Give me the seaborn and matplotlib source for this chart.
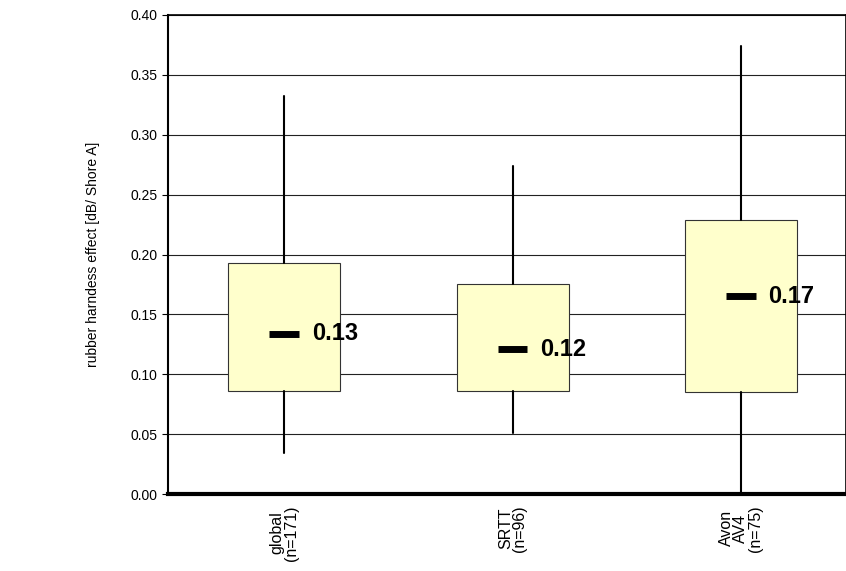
import matplotlib
matplotlib.use("Agg")
import matplotlib.pyplot as plt
import seaborn as sns

categories = ["global\n(n=171)", "SRTT\n(n=96)", "Avon\nAV4\n(n=75)"]
whislo = [0.034, 0.051, 0.0]
q1 = [0.086, 0.086, 0.085]
med = [0.134, 0.121, 0.165]
q3 = [0.193, 0.175, 0.229]
whishi = [0.332, 0.274, 0.374]
med_labels = ["0.13", "0.12", "0.17"]

sns.set_style("white")
plt.rcParams['font.family'] = ['Liberation Sans', 'DejaVu Sans']
plt.rcParams['text.color'] = 'black'
plt.rcParams['axes.labelcolor'] = 'black'
plt.rcParams['xtick.color'] = 'black'
plt.rcParams['ytick.color'] = 'black'
fig = plt.figure(figsize=(8.46, 5.71), dpi=100)
ax = fig.add_axes([168/846, 77/571, 678/846, 479/571])

stats = [dict(whislo=a, q1=b, med=c, q3=d, whishi=e, fliers=[])
         for a, b, c, d, e in zip(whislo, q1, med, q3, whishi)]
pos = list(range(len(categories)))
ax.set_axisbelow(True)
ax.yaxis.grid(True, color="#222222", lw=0.8)
ax.bxp(stats, positions=pos, widths=0.49, patch_artist=True, showcaps=False,
       boxprops=dict(facecolor="#FFFFCC", edgecolor="#333333", lw=0.8),
       whiskerprops=dict(color="black", lw=1.5),
       medianprops=dict(color="none"))
for p, m, t in zip(pos, med, med_labels):
    ax.plot([p - 0.065, p + 0.065], [m, m], color="black", lw=5, solid_capstyle="butt", zorder=5)
    ax.text(p + 0.12, m, t, fontsize=17, fontweight="bold", va="center", ha="left", zorder=6, color="black")

ax.set_xlim(-0.509, 2.46)
ax.set_ylim(0, 0.4)
ax.set_yticks([i * 0.05 for i in range(9)])
ax.set_yticklabels([f"{i*0.05:.2f}" for i in range(9)], fontsize=10)
ax.set_xticks(pos)
ax.set_xticklabels(categories, rotation=90, fontsize=11.5, va="top", ha="center", linespacing=0.95)
ax.tick_params(axis="y", length=4, color="black", direction="out", left=True)
ax.tick_params(axis="x", length=0, pad=8)
for s in ["top", "right"]:
    ax.spines[s].set_visible(True)
    ax.spines[s].set_color("black")
    ax.spines[s].set_linewidth(1.2)
ax.spines["left"].set_color("black"); ax.spines["left"].set_linewidth(1.5)
ax.spines["bottom"].set_color("black"); ax.spines["bottom"].set_linewidth(3)
ax.set_ylabel("rubber harndess effect [dB/ Shore A]", fontsize=10)
ax.yaxis.set_label_coords(-68/678, 0.5)
fig.savefig("out.png", dpi=100)
